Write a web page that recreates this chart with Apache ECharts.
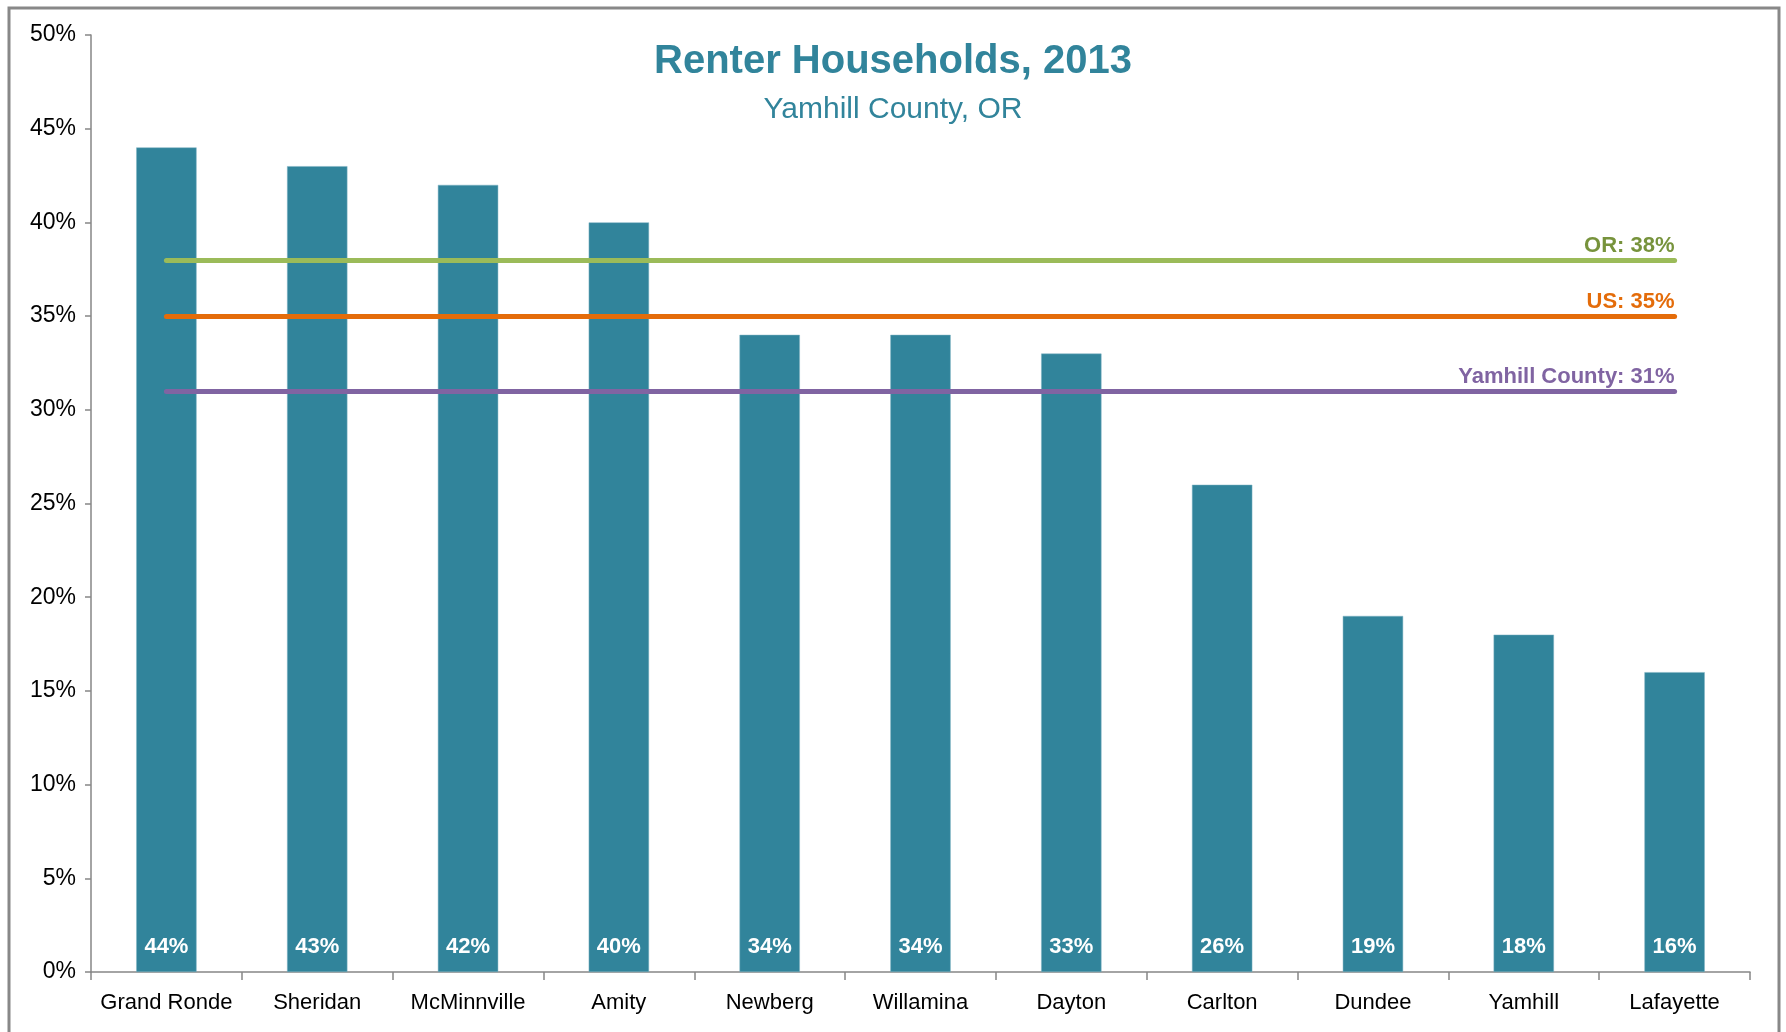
<!DOCTYPE html>
<html lang="en">
<head>
<meta charset="utf-8">
<script src="https://cdn.jsdelivr.net/npm/echarts@6/dist/echarts.min.js"></script>
<style>
  html, body { margin: 0; padding: 0; background: #fff; }
  #main { width: 1786px; height: 1032px; }
</style>
</head>
<body>
<div id="main"></div>
<script type="text/javascript">
// towns of Yamhill County, share of renter households (%)
var towns = ['Grand Ronde', 'Sheridan', 'McMinnville', 'Amity', 'Newberg', 'Willamina',
             'Dayton', 'Carlton', 'Dundee', 'Yamhill', 'Lafayette'];
var renterShare = [44, 43, 42, 40, 34, 34, 33, 26, 19, 18, 16];

// reference levels drawn across the chart
var refNames  = ['OR', 'US', 'Yamhill County'];
var refValues = [38, 35, 31];
var refLineColors  = ['#9BBB59', '#E46C0A', '#8064A2'];
var refLabelColors = ['#77933C', '#E46C0A', '#8064A2'];

var yMin = 0, yMax = 50, yStep = 5;

var narrow = "'Liberation Sans Narrow', 'Arial Narrow', 'Liberation Sans', Arial, sans-serif";

function buildRefLines() {
  var lines = [];
  for (var i = 0; i < refValues.length; i++) {
    lines.push([
      {
        coord: [towns[0], refValues[i]],
        lineStyle: { color: refLineColors[i], width: 5, type: 'solid', cap: 'round' },
        label: {
          show: true,
          position: 'insideEndTop',
          distance: [0, 3],
          formatter: refNames[i] + ': ' + refValues[i] + '%',
          color: refLabelColors[i],
          fontFamily: narrow,
          fontWeight: 'bold',
          fontSize: 22
        }
      },
      { coord: [towns[towns.length - 1], refValues[i]] }
    ]);
  }
  return lines;
}

var chart = echarts.init(document.getElementById('main'));

var option = {
  animation: false,
  backgroundColor: '#ffffff',
  textStyle: { fontFamily: narrow },
  title: {
    left: 'center',
    top: 35,
    text: 'Renter Households, 2013',
    subtext: 'Yamhill County, OR',
    itemGap: 10,
    textStyle: {
      color: '#31849B',
      fontFamily: narrow,
      fontWeight: 'bold',
      fontSize: 40,
      lineHeight: 44
    },
    subtextStyle: {
      color: '#31849B',
      fontFamily: narrow,
      fontSize: 30,
      lineHeight: 32
    }
  },
  graphic: [{
    type: 'rect',
    silent: true,
    shape: { x: 9, y: 8, width: 1770, height: 1040 },
    style: { fill: 'none', stroke: '#888888', lineWidth: 3 }
  }],
  grid: { left: 91, right: 36, top: 35, bottom: 60, containLabel: false },
  xAxis: {
    type: 'category',
    data: towns,
    axisLine: { lineStyle: { color: '#868686', width: 1.5 } },
    axisTick: { show: true, alignWithLabel: false, length: 8, lineStyle: { color: '#868686', width: 1.5 } },
    axisLabel: { color: '#000', fontFamily: narrow, fontSize: 22, margin: 20, interval: 0 },
    splitLine: { show: false }
  },
  yAxis: {
    type: 'value',
    min: yMin,
    max: yMax,
    interval: yStep,
    axisLine: { show: true, lineStyle: { color: '#868686', width: 1.5 } },
    axisTick: { show: true, length: 6, lineStyle: { color: '#868686', width: 1.5 } },
    axisLabel: { color: '#000', fontFamily: narrow, fontSize: 23, margin: 15, formatter: '{value}%' },
    splitLine: { show: false }
  },
  series: [{
    type: 'bar',
    data: renterShare,
    barWidth: '40%',
    itemStyle: { color: '#31849B', borderColor: '#7FB3C2', borderWidth: 0.5 },
    label: {
      show: true,
      position: 'insideBottom',
      distance: 14,
      formatter: '{c}%',
      color: '#fff',
      fontFamily: narrow,
      fontWeight: 'bold',
      fontSize: 22
    },
    markLine: {
      silent: true,
      symbol: ['none', 'none'],
      data: buildRefLines()
    }
  }]
};

chart.setOption(option);
</script>
</body>
</html>
